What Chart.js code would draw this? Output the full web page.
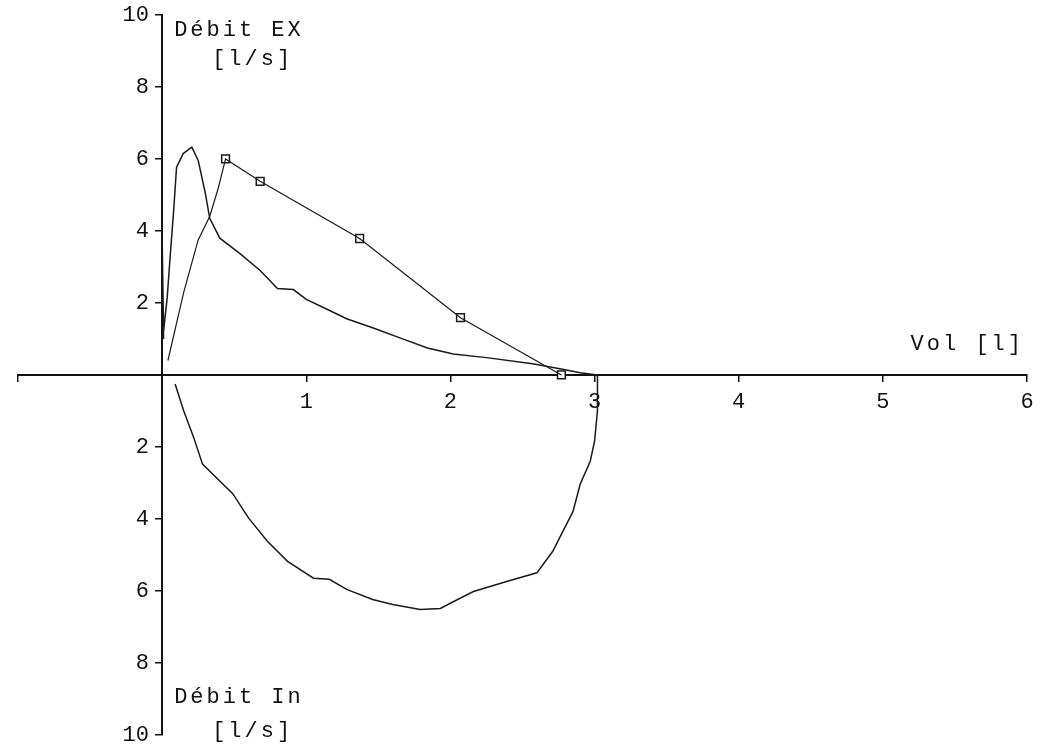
<!DOCTYPE html>
<html lang="fr">
<head>
  <meta charset="UTF-8">
  <title>Courbe débit-volume</title>
  <script src="https://cdn.jsdelivr.net/npm/chart.js"></script>
  <style>
    body {
      margin: 0;
      padding: 0;
      background: #ffffff;
    }
    .graph {
      position: relative;
      width: 1052px;
      height: 748px;
    }
  </style>
</head>
<body>
  <div class="graph">
    <canvas id="courbeDV"></canvas>
  </div>
  <script>
    // Boucle mesurée : expiration (débit positif)
    const expVol  = [0.01, 0.00, 0.01, 0.02, 0.035, 0.055, 0.08, 0.10, 0.146, 0.206, 0.25, 0.30, 0.33, 0.40, 0.54, 0.68, 0.80, 0.91, 1.00, 1.14, 1.28, 1.46, 1.65, 1.84, 2.02, 2.25, 2.57, 2.76, 2.90, 3.02];
    const expDeb  = [1.0, 3.8, 1.2, 1.6, 2.14, 3.26, 4.57, 5.77, 6.15, 6.33, 5.96, 5.04, 4.35, 3.8, 3.37, 2.9, 2.4, 2.37, 2.1, 1.83, 1.56, 1.31, 1.03, 0.75, 0.58, 0.48, 0.31, 0.17, 0.06, 0.0];

    // Boucle mesurée : inspiration (débit négatif)
    const inspVol = [3.02, 3.02, 3.00, 2.97, 2.90, 2.85, 2.78, 2.71, 2.60, 2.39, 2.16, 2.07, 1.93, 1.79, 1.60, 1.46, 1.28, 1.16, 1.05, 0.87, 0.73, 0.60, 0.49, 0.38, 0.28, 0.22, 0.15, 0.09];
    const inspDeb = [0.0, -1.0, -1.84, -2.4, -3.04, -3.8, -4.35, -4.9, -5.5, -5.74, -6.02, -6.2, -6.49, -6.52, -6.38, -6.24, -5.96, -5.68, -5.65, -5.18, -4.62, -3.98, -3.3, -2.87, -2.48, -1.75, -1.0, -0.25];

    // Courbe théorique
    const theoVol = [0.04, 0.15, 0.25, 0.33, 0.39, 0.44, 0.68, 1.37, 2.07, 2.77];
    const theoDeb = [0.4, 2.3, 3.75, 4.4, 5.2, 6.0, 5.38, 3.79, 1.59, 0.0];

    // Points de référence (carrés)
    const refVol = [0.44, 0.68, 1.37, 2.07, 2.77];
    const refDeb = [6.0, 5.38, 3.79, 1.59, 0.0];

    // Graduations
    const volMin = -1, volMax = 6, volPas = 1;
    const debMin = -10, debMax = 10, debPas = 2;

    const toPoints = (xs, ys) => xs.map((x, i) => ({ x, y: ys[i] }));

    const police = '"Liberation Mono", "DejaVu Sans Mono", monospace';
    const encre = '#111';

    // Titres des axes, posés près de l'origine
    const titresAxes = {
      id: 'titresAxes',
      afterDraw(chart) {
        const { ctx, chartArea, scales } = chart;
        const x0 = scales.x.getPixelForValue(0);
        const y0 = scales.y.getPixelForValue(0);
        ctx.save();
        ctx.font = '22px ' + police;
        ctx.fillStyle = encre;
        ctx.textBaseline = 'middle';
        ctx.letterSpacing = '3px';
        ctx.textAlign = 'left';
        ctx.fillText('Débit EX', x0 + 12, chartArea.top + 15);
        ctx.fillText('[l/s]', x0 + 50, chartArea.top + 44);
        ctx.fillText('Débit In', x0 + 12, chartArea.bottom - 38);
        ctx.fillText('[l/s]', x0 + 50, chartArea.bottom - 4);
        ctx.textAlign = 'right';
        ctx.fillText('Vol [l]', chartArea.right - 3, y0 - 31);
        ctx.restore();
      }
    };

    const ligne = {
      showLine: true,
      borderColor: '#1a1a1a',
      borderWidth: 1.5,
      pointRadius: 0,
      tension: 0,
      fill: false
    };

    new Chart(document.getElementById('courbeDV'), {
      type: 'scatter',
      data: {
        datasets: [
          { ...ligne, label: 'Expiration', data: toPoints(expVol, expDeb) },
          { ...ligne, label: 'Inspiration', data: toPoints(inspVol, inspDeb) },
          { ...ligne, label: 'Théorique', data: toPoints(theoVol, theoDeb), borderWidth: 1.2 },
          {
            label: 'Référence',
            data: toPoints(refVol, refDeb),
            showLine: false,
            pointStyle: 'rect',
            pointRadius: 5.5,
            pointBorderWidth: 1.5,
            pointBorderColor: '#1a1a1a',
            pointBackgroundColor: '#ffffff'
          }
        ]
      },
      options: {
        responsive: true,
        maintainAspectRatio: false,
        animation: false,
        layout: { padding: { left: 18, right: 25, top: 15, bottom: 13 } },
        plugins: {
          legend: { display: false },
          tooltip: { enabled: false }
        },
        scales: {
          x: {
            type: 'linear',
            position: { y: 0 },
            min: volMin,
            max: volMax,
            grid: { drawOnChartArea: false, drawTicks: true, tickLength: 6, color: encre, lineWidth: 1.5 },
            border: { display: true, color: encre, width: 2 },
            ticks: {
              stepSize: volPas,
              autoSkip: false,
              maxRotation: 0,
              padding: 8,
              color: encre,
              font: { family: police, size: 22 },
              callback: (v) => (v <= 0 ? '' : v)
            }
          },
          y: {
            type: 'linear',
            position: { x: 0 },
            min: debMin,
            max: debMax,
            grid: { drawOnChartArea: false, drawTicks: true, tickLength: 6, color: encre, lineWidth: 1.5 },
            border: { display: true, color: encre, width: 2 },
            ticks: {
              stepSize: debPas,
              autoSkip: false,
              padding: 0,
              color: encre,
              font: { family: police, size: 22 },
              // valeurs absolues, un blanc pour décoller de l'axe
              callback: (v) => (v === 0 ? '' : Math.abs(v) + ' ')
            }
          }
        }
      },
      plugins: [titresAxes]
    });
  </script>
</body>
</html>
